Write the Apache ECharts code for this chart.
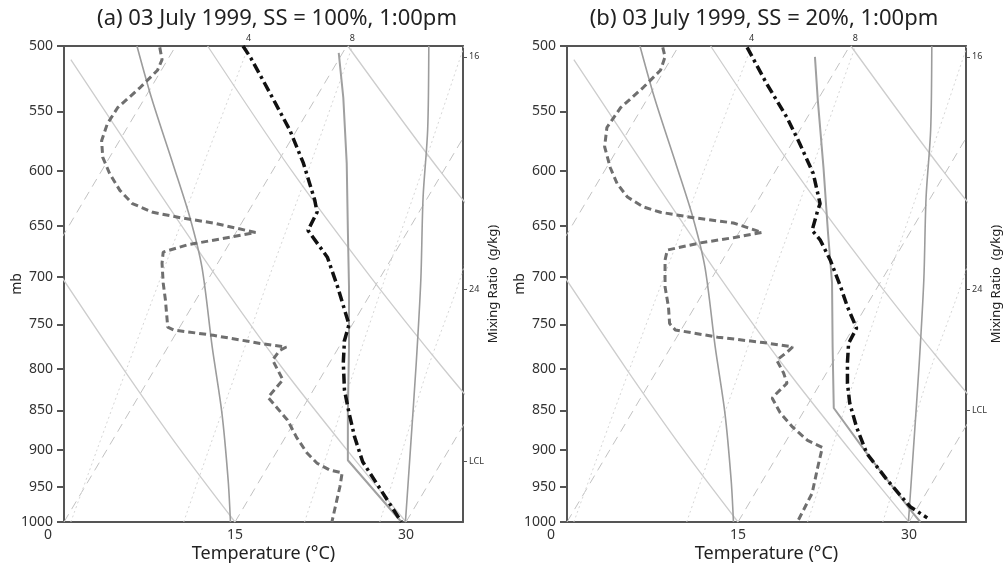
<!DOCTYPE html>
<html>
<head>
<meta charset="utf-8">
<script src="https://cdn.jsdelivr.net/npm/echarts@6.0.0/dist/echarts.min.js"></script>
<style>
html, body { margin: 0; padding: 0; background: #fff; }
#chart { width: 1005px; height: 569px; }
</style>
</head>
<body>
<div id="chart"></div>
<script>
// pressure ticks (mb) and temperature ticks (°C, position on the skewed diagram)
const pressTicks = [500, 550, 600, 650, 700, 750, 800, 850, 900, 950, 1000];
const tempTicks = [0, 15, 30];

// background grid of the skew-T, as [diagram temperature, pressure] points
const isotherms = [
    [[-15, 1000], [9.8, 500]],
    [[0, 1000], [24.8, 500]],
    [[15, 1000], [39.8, 500]],
    [[30, 1000], [54.8, 500]]
];
const dryAdiabats = [
    [[15, 1000], [10.2, 900], [5.2, 800], [-0.2, 700]],
    [[30, 1000], [24.8, 900], [19.2, 800], [13.4, 700], [7.1, 600], [0.6, 510]],
    [[39.3, 900], [33.3, 800], [26.9, 700], [20.0, 600], [12.6, 500]],
    [[40.5, 700], [33.0, 600], [24.9, 500]]
];
const mixRatio = [4, 8, 16, 24]; // g/kg
const mixLines = [
    [[0.6, 1000], [2.9, 900], [5.5, 800], [8.5, 700], [12.0, 600], [16.2, 500]],
    [[10.5, 1000], [12.7, 900], [15.2, 800], [18.0, 700], [21.4, 600], [25.3, 500]],
    [[21.1, 1000], [23.2, 900], [25.5, 800], [28.2, 700], [31.4, 600], [35.1, 500]],
    [[27.7, 1000], [29.7, 900], [31.9, 800], [34.8, 700], [37.5, 600]]
];
const mixRightP = [508, 713]; // where the 16 and 24 lines leave the frame
const moistAdiabats = [
    [[6.4, 500], [7.7, 540], [9.6, 595], [11.05, 642], [12.1, 690], [13.0, 775], [13.85, 853], [14.4, 941], [14.6, 1000]],
    [[32.0, 500], [31.9, 565], [31.5, 623], [31.3, 703], [30.9, 793], [30.4, 897], [29.95, 1000]]
];

// (a) SS = 100%
const tempA = [[15.7, 500], [16.4, 509], [18.1, 536], [19.8, 565], [21.0, 593], [22.0, 626], [22.2, 637], [21.4, 654],
    [23.1, 680], [24.0, 710], [25.0, 750], [24.6, 768], [24.5, 793], [24.6, 825], [25.0, 853], [25.5, 884], [26.2, 916], [29.6, 1000]];
const dewA = [[8.4, 501], [8.6, 510], [8.2, 518], [6.7, 531], [4.7, 547], [3.8, 560], [3.3, 574], [3.4, 588], [4.0, 602],
    [4.9, 617], [6.0, 629], [7.8, 637], [10.2, 642], [13.1, 647], [16.8, 656], [14.3, 661], [10.8, 668], [8.7, 675], [8.6, 686],
    [8.7, 706], [8.9, 724], [9.1, 753], [9.6, 756], [13.1, 762], [17.2, 771], [19.5, 775], [18.9, 779], [18.3, 790], [19.2, 813],
    [17.9, 834], [18.7, 847], [19.6, 862], [20.4, 884], [21.3, 904], [22.2, 918], [23.3, 927], [24.4, 931], [24.2, 950],
    [23.8, 978], [23.5, 1000]];
const parcelA = [[29.6, 1000], [24.9, 914], [24.9, 853], [25.0, 775], [25.0, 710], [24.9, 654], [24.8, 593], [24.5, 539], [24.1, 505]];
const lclA = 916;

// (b) SS = 20%
const tempB = [[15.8, 501], [17.5, 528], [19.3, 555], [20.4, 576], [21.6, 602], [22.2, 629], [22.0, 635], [21.5, 654],
    [22.2, 663], [23.1, 683], [24.0, 710], [24.6, 731], [25.4, 754], [24.7, 771], [24.6, 793], [24.6, 817], [24.8, 841],
    [25.4, 871], [26.3, 905], [28.1, 941], [30.1, 978], [31.6, 994]];
const dewB = [[8.4, 501], [8.6, 508], [8.2, 518], [6.7, 531], [4.7, 547], [3.5, 563], [3.3, 579], [3.8, 597], [4.4, 611],
    [5.3, 623], [6.7, 632], [8.2, 637], [11.1, 642], [14.6, 647], [17.1, 656], [14.6, 661], [11.7, 666], [8.8, 673], [8.6, 683],
    [8.6, 710], [8.9, 731], [9.0, 749], [9.5, 756], [13.2, 764], [17.2, 770], [19.8, 775], [19.3, 781], [18.4, 790], [19.0, 805],
    [19.3, 817], [18.4, 829], [18.0, 835], [18.7, 853], [19.8, 871], [21.1, 888], [22.4, 897], [22.0, 923], [21.5, 959], [20.3, 997]];
const parcelB = [[31.0, 1000], [30.35, 987], [26.3, 905], [23.4, 847], [23.3, 775], [23.25, 706], [22.9, 657], [22.5, 597], [22.0, 541], [21.75, 508]];
const lclB = 850;

const panels = [
    {title: '(a) 03 July 1999, SS = 100%, 1:00pm', temp: tempA, dew: dewA, parcel: parcelA, lcl: lclA, left: 64, titleX: 272},
    {title: '(b) 03 July 1999, SS = 20%, 1:00pm', temp: tempB, dew: dewB, parcel: parcelB, lcl: lclB, left: 567, titleX: 759}
];

const FONT = 'Noto Sans';
const AXIS_COLOR = '#555';
const TEXT_COLOR = '#333';

function toLn(arr) {
    return arr.map(d => [d[0], Math.log(d[1])]);
}
function pickLabel(marks, v) { // marks: [[value, text]]
    const m = marks.find(r => Math.abs(r[0] - v) < 1e-6);
    return m ? m[1] : '';
}

const grids = [], xAxes = [], yAxes = [], series = [], titles = [];

panels.forEach((pn, i) => {
    grids.push({left: pn.left, top: 46, width: 399, height: 476});
    titles.push({
        text: pn.title, left: pn.titleX, top: 3, textAlign: 'center',
        textStyle: {fontFamily: FONT, fontSize: 22, fontWeight: 'normal', color: '#222'}
    });
    const axisLine = {show: true, onZero: false, lineStyle: {color: AXIS_COLOR, width: 2}};
    // bottom temperature axis
    xAxes.push({
        type: 'value', gridIndex: i, position: 'bottom', min: 0, max: 35,
        axisLine, splitLine: {show: false}, axisTick: {show: false},
        axisLabel: {
            customValues: tempTicks, margin: 6, fontFamily: FONT, fontSize: 14, color: TEXT_COLOR,
            formatter: v => v === 0 ? '{z|0}' : String(v),
            rich: {z: {padding: [0, 32, 0, 0], fontFamily: FONT, fontSize: 14, color: TEXT_COLOR}}
        },
        name: 'Temperature (°C)', nameLocation: 'middle', nameGap: 23, nameMoveOverlap: false,
        nameTextStyle: {fontFamily: FONT, fontSize: 18, color: '#222'}
    });
    // top axis carrying mixing ratio labels
    const topMarks = mixRatio.slice(0, 2).map((w, k) => [mixLines[k][mixLines[k].length - 1][0], String(w)]);
    xAxes.push({
        type: 'value', gridIndex: i, position: 'top', min: 0, max: 35,
        axisLine, splitLine: {show: false}, axisTick: {show: false},
        axisLabel: {
            customValues: topMarks.map(m => m[0]), margin: 3, fontFamily: FONT, fontSize: 9, color: TEXT_COLOR,
            formatter: v => pickLabel(topMarks, v)
        }
    });
    // left pressure axis (log p)
    yAxes.push({
        type: 'value', gridIndex: i, position: 'left', inverse: true,
        min: Math.log(500), max: Math.log(1000),
        axisLine, splitLine: {show: false},
        axisTick: {show: true, customValues: pressTicks.map(Math.log), length: 7, lineStyle: {color: AXIS_COLOR, width: 2}},
        axisLabel: {
            customValues: pressTicks.map(Math.log), margin: 11, fontFamily: FONT, fontSize: 14, color: TEXT_COLOR,
            formatter: v => String(Math.round(Math.exp(v)))
        },
        name: 'mb', nameLocation: 'middle', nameGap: 40, nameRotate: 90, nameMoveOverlap: false,
        nameTextStyle: {fontFamily: FONT, fontSize: 14, color: '#222'}
    });
    // right axis: mixing ratio labels and LCL
    const rightMarks = [
        [Math.log(mixRightP[0]), String(mixRatio[2])],
        [Math.log(mixRightP[1]), String(mixRatio[3])],
        [Math.log(pn.lcl), 'LCL']
    ];
    yAxes.push({
        type: 'value', gridIndex: i, position: 'right', inverse: true,
        min: Math.log(500), max: Math.log(1000),
        axisLine, splitLine: {show: false},
        axisTick: {show: true, customValues: rightMarks.map(m => m[0]), length: 4, lineStyle: {color: AXIS_COLOR, width: 1}},
        axisLabel: {
            customValues: rightMarks.map(m => m[0]), margin: 6, fontFamily: FONT, fontSize: 9, color: TEXT_COLOR,
            formatter: v => pickLabel(rightMarks, v)
        },
        name: 'Mixing Ratio  (g/kg)', nameLocation: 'middle', nameGap: 24, nameRotate: 90, nameMoveOverlap: false,
        nameTextStyle: {fontFamily: FONT, fontSize: 13, color: '#222'}
    });

    const add = (data, lineStyle, z, smooth) => series.push({
        type: 'line', xAxisIndex: 2 * i, yAxisIndex: 2 * i, data: toLn(data),
        symbol: 'none', smooth: smooth || false, clip: true, silent: true, z, lineStyle
    });
    isotherms.forEach(l => add(l, {color: '#c2c2c2', width: 1, type: [9, 6]}, 1));
    mixLines.forEach(l => add(l, {color: '#d6d6d6', width: 1, type: [2, 3]}, 1, 0.3));
    dryAdiabats.forEach(l => add(l, {color: '#cdcdcd', width: 1.3}, 1, 0.3));
    moistAdiabats.forEach(l => add(l, {color: '#9c9c9c', width: 1.6}, 2, 0.3));
    add(pn.parcel, {color: '#a0a0a0', width: 2}, 3);
    add(pn.dew, {color: '#6f6f6f', width: 3, type: [7, 4]}, 4);
    add(pn.temp, {color: '#111', width: 3.5, type: [10, 4, 3, 4]}, 5);
});

const chart = echarts.init(document.getElementById('chart'), null, {renderer: 'canvas'});
chart.setOption({
    animation: false,
    backgroundColor: '#fff',
    title: titles,
    grid: grids,
    xAxis: xAxes,
    yAxis: yAxes,
    series
});
</script>
</body>
</html>
